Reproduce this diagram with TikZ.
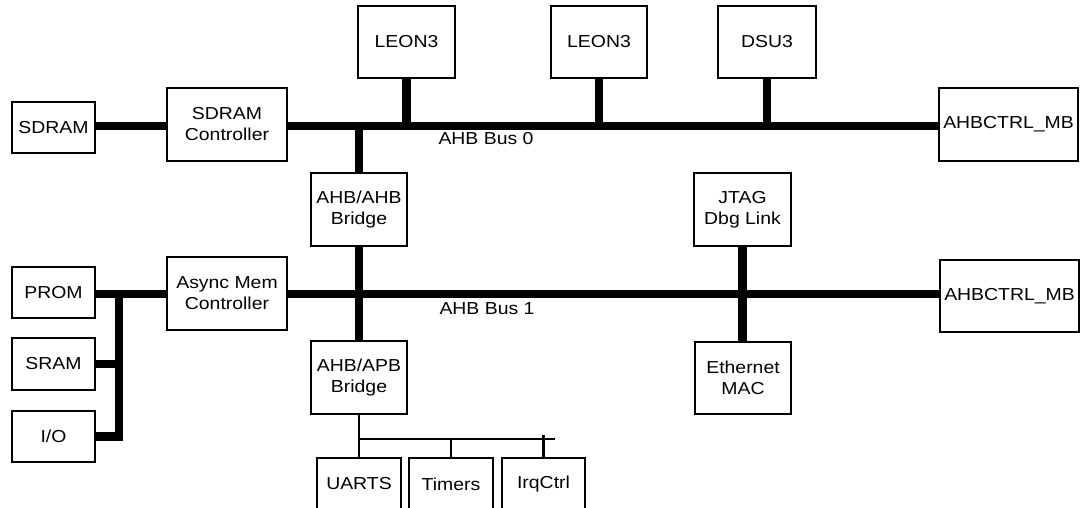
\documentclass[tikz,border=0pt]{standalone}
\usepackage{fontspec}
\setmainfont{Liberation Sans}[FakeStretch=1.12]
\begin{document}
\begin{tikzpicture}[x=0.75pt,y=-0.75pt,
  blk/.style={draw=black,line width=1pt,fill=white,inner sep=0pt,align=center,
    font=\fontsize{13}{15.75}\selectfont},
  lbl/.style={inner sep=0pt,font=\fontsize{13}{15.75}\selectfont},
  bus/.style={line width=6.2pt,line join=miter},
  apb/.style={line width=2pt,line join=miter}]
\useasboundingbox (0,0) rectangle (1080,507);
\clip (0,0) rectangle (1080,507);
% coordinates of bus levels
\coordinate (b0) at (0,126);
\coordinate (b1) at (0,294);
\coordinate (ab) at (0,439);
\coordinate (irqtop) at (0,435);
\coordinate (mj) at (119,294);
\coordinate (apbend) at (555,439);
% nodes
\node[blk,minimum width=62.25pt,minimum height=38.25pt] (SDRAM) at (53.5,127.5) {SDRAM};
\node[blk,minimum width=90pt,minimum height=54.75pt] (SDRAMC) at (227,124.5) {SDRAM\\Controller};
\node[blk,minimum width=72.75pt,minimum height=54pt] (LEON1) at (406.5,42) {LEON3};
\node[blk,minimum width=72pt,minimum height=54pt] (LEON2) at (599,42) {LEON3};
\node[blk,minimum width=73.5pt,minimum height=54pt] (DSU) at (767,42) {DSU3};
\node[blk,minimum width=104.25pt,minimum height=54.75pt] (ACT0) at (1008.5,124.5) {AHBCTRL\_MB};
\node[blk,minimum width=72pt,minimum height=54.75pt] (AHBAHB) at (359,209.5) {AHB/AHB\\Bridge};
\node[blk,minimum width=72.75pt,minimum height=54.75pt] (JTAG) at (742.5,209.5) {JTAG\\Dbg Link};
\node[blk,minimum width=62.25pt,minimum height=38.25pt] (PROM) at (53.5,292.5) {PROM};
\node[blk,minimum width=62.25pt,minimum height=39pt] (SRAM) at (53.5,364) {SRAM};
\node[blk,minimum width=62.25pt,minimum height=38.25pt] (IO) at (53.5,436.5) {I/O};
\node[blk,minimum width=90pt,minimum height=54.75pt] (ASYNC) at (227,293.5) {Async Mem\\Controller};
\node[blk,minimum width=104.25pt,minimum height=54pt] (ACT1) at (1009.5,296) {AHBCTRL\_MB};
\node[blk,minimum width=72pt,minimum height=54.75pt] (AHBAPB) at (359,377.5) {AHB/APB\\Bridge};
\node[blk,minimum width=72pt,minimum height=54pt] (ETH) at (743,378) {Ethernet\\MAC};
\node[blk,minimum width=63pt,minimum height=39pt] (UARTS) at (359,484) {UARTS};
\node[blk,minimum width=63pt,minimum height=39pt] (TIMERS) at (451,484) {Timers};
\node[blk,minimum width=62.25pt,minimum height=39pt] (IRQ) at (543.5,484) {IrqCtrl};
\node[lbl] (bus0lbl) at (486,139) {AHB Bus 0};
\node[lbl] (bus1lbl) at (487,309) {AHB Bus 1};
% AHB bus 0
\draw[bus] (SDRAM.east |- b0) -- (SDRAMC.west |- b0);
\draw[bus] (SDRAMC.east |- b0) -- (ACT0.west |- b0);
\draw[bus] (LEON1.south) -- (LEON1.south |- b0);
\draw[bus] (LEON2.south) -- (LEON2.south |- b0);
\draw[bus] (DSU.south) -- (DSU.south |- b0);
\draw[bus] (AHBAHB.north |- b0) -- (AHBAHB.north);
% AHB bus 1
\draw[bus] (AHBAHB.south) -- (AHBAPB.north);
\draw[bus] (PROM.east |- b1) -- (ASYNC.west |- b1);
\draw[bus] (ASYNC.east |- b1) -- (ACT1.west |- b1);
\draw[bus] (JTAG.south) -- (JTAG.south |- ETH.north);
% memory bus
\draw[bus] (mj) -- (mj |- IO.east) -- (IO.east);
\draw[bus] (SRAM.east) -- (mj |- SRAM.east);
% APB
\draw[apb] (AHBAPB.south) -- (AHBAPB.south |- ab) -- (apbend);
\draw[apb] (UARTS.north) -- (UARTS.north |- ab);
\draw[apb] (TIMERS.north) -- (TIMERS.north |- ab);
\draw[apb] (IRQ.north) -- (IRQ.north |- irqtop);
\end{tikzpicture}
\end{document}
